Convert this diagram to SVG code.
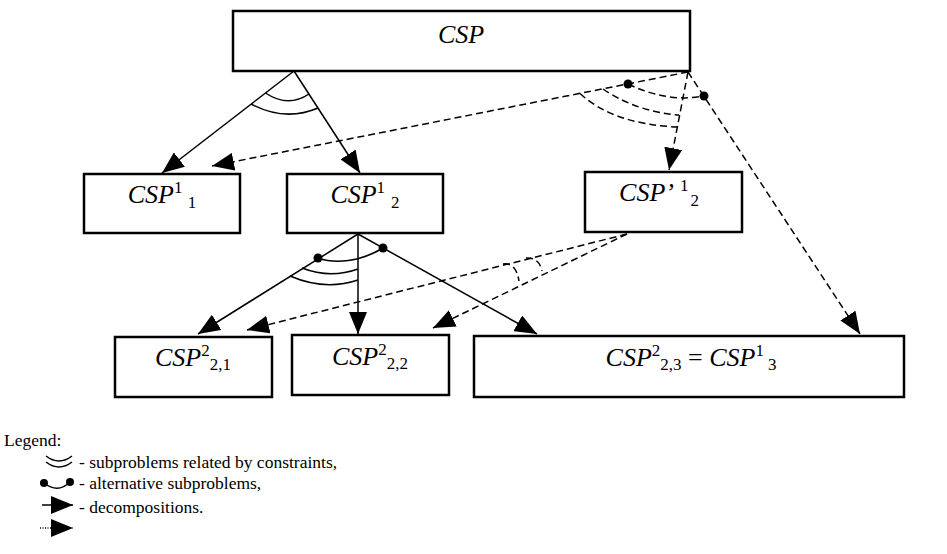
<svg xmlns="http://www.w3.org/2000/svg" width="947" height="554" viewBox="0 0 947 554">
<style>
.box{fill:#fff;stroke:#000;stroke-width:2.5}
.lbl{font-family:"Liberation Serif","Times New Roman",serif;font-size:26px;font-style:italic;fill:#000}
.sup{font-style:normal;font-size:17px}
.ln{fill:none;stroke:#000;stroke-width:1.5}
.dash{stroke-dasharray:7,4}
.leg{font-family:"Liberation Serif","Times New Roman",serif;font-size:17.5px;fill:#000}
</style>
<defs>
<marker id="ah" viewBox="0 0 22 18" refX="22" refY="9" markerWidth="22" markerHeight="18" orient="auto" markerUnits="userSpaceOnUse"><path d="M0,0 L22,9 L0,18 z" fill="#000"/></marker>
</defs>
<g id="connectors">
<line class="ln" x1="294" y1="71" x2="162" y2="173" marker-end="url(#ah)"/>
<line class="ln" x1="294" y1="71" x2="360" y2="173" marker-end="url(#ah)"/>
<path class="ln" d="M265.5,93 Q288,108 309,94"/>
<path class="ln" d="M251,104 Q285,122 318,108"/>
<line class="ln dash" x1="688" y1="72" x2="212" y2="166" marker-end="url(#ah)"/>
<line class="ln dash" x1="688" y1="72" x2="669" y2="170" marker-end="url(#ah)"/>
<line class="ln dash" x1="688" y1="72" x2="860" y2="334" marker-end="url(#ah)"/>
<path class="ln dash" d="M628,84 Q668,103 704,96"/>
<path class="ln dash" d="M603,89 Q637,112 679,115"/>
<path class="ln dash" d="M580,93.5 Q613,124 677,127"/>
<circle cx="628" cy="84" r="4.5"/>
<circle cx="704" cy="96" r="4.5"/>
<line class="ln" x1="358" y1="234" x2="198" y2="334" marker-end="url(#ah)"/>
<line class="ln" x1="358" y1="234" x2="358" y2="334" marker-end="url(#ah)"/>
<line class="ln" x1="358" y1="234" x2="537" y2="334" marker-end="url(#ah)"/>
<path class="ln" d="M318,258 C335,264 360,262 383,248"/>
<path class="ln" d="M302,268 Q330,279 358,269"/>
<path class="ln" d="M290,276 Q325,291 358,280"/>
<circle cx="318" cy="258" r="4.5"/>
<circle cx="383" cy="248" r="4.5"/>
<line class="ln dash" x1="627" y1="234" x2="247" y2="330" marker-end="url(#ah)"/>
<line class="ln dash" x1="627" y1="234" x2="433" y2="328" marker-end="url(#ah)"/>
<path class="ln dash" d="M503,264 Q516,262 519,281"/>
<path class="ln dash" d="M526,258 Q539,257 542,271"/>
</g>
<g id="csp">
<rect class="box" x="233" y="11" width="457" height="60"/>
<text class="lbl" x="461" y="43" text-anchor="middle">CSP</text>
</g>
<g id="csp1_1">
<rect class="box" x="84" y="174" width="156" height="59"/>
<text class="lbl" x="162" y="203" text-anchor="middle">CSP<tspan class="sup" dy="-10">1</tspan><tspan class="sup" dx="6" dy="15">1</tspan></text>
</g>
<g id="csp1_2">
<rect class="box" x="287" y="174" width="156" height="59"/>
<text class="lbl" x="365" y="203" text-anchor="middle">CSP<tspan class="sup" dy="-10">1</tspan><tspan class="sup" dx="6" dy="15">2</tspan></text>
</g>
<g id="cspp1_2">
<rect class="box" x="585" y="172" width="157" height="60"/>
<text class="lbl" x="659" y="201" text-anchor="middle">CSP’<tspan class="sup" dx="6" dy="-10">1</tspan><tspan class="sup" dx="2" dy="15">2</tspan></text>
</g>
<g id="csp2_21">
<rect class="box" x="115" y="337" width="157" height="60"/>
<text class="lbl" x="193" y="366" text-anchor="middle">CSP<tspan class="sup" dy="-10">2</tspan><tspan class="sup" dy="14">2,1</tspan></text>
</g>
<g id="csp2_22">
<rect class="box" x="292" y="335" width="157" height="60"/>
<text class="lbl" x="370" y="365" text-anchor="middle">CSP<tspan class="sup" dy="-10">2</tspan><tspan class="sup" dy="14">2,2</tspan></text>
</g>
<g id="csp2_23">
<rect class="box" x="474" y="336" width="430" height="61"/>
<text class="lbl" x="691" y="366" text-anchor="middle">CSP<tspan class="sup" dy="-10">2</tspan><tspan class="sup" dy="14">2,3</tspan><tspan font-style="normal" dy="-4"> = </tspan>CSP<tspan class="sup" dy="-10">1</tspan><tspan class="sup" dx="4" dy="14">3</tspan></text>
</g>
<g id="legend">
<text class="leg" x="4" y="446">Legend:</text>
<path class="ln" d="M46,456 Q59,466 72,456"/>
<path class="ln" d="M46,462 Q59,472 72,462"/>
<text class="leg" x="79" y="468">- subproblems related by constraints,</text>
<path class="ln" d="M44,483 Q58,494 70,482"/>
<circle cx="44" cy="483" r="4"/>
<circle cx="70" cy="482" r="4"/>
<text class="leg" x="79" y="489">- alternative subproblems,</text>
<line class="ln" x1="42" y1="505" x2="73" y2="505" marker-end="url(#ah)"/>
<text class="leg" x="79" y="513">- decompositions.</text>
<line class="ln" x1="40" y1="528" x2="73" y2="528" stroke-dasharray="1,1.5" marker-end="url(#ah)"/>
</g>
</svg>
